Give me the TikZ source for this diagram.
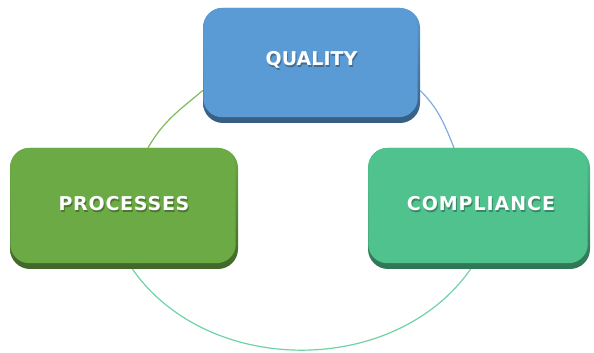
\documentclass[tikz,border=0pt]{standalone}
\usepackage{fontspec}
\setmainfont{DejaVu Sans}
\newfontfamily\cardfontQ[LetterSpace=0]{DejaVu Sans}
\newfontfamily\cardfontP[LetterSpace=4]{DejaVu Sans}
\newfontfamily\cardfontC[LetterSpace=5]{DejaVu Sans}
\definecolor{qblue}{RGB}{91,155,213}
\definecolor{pgreen}{RGB}{108,170,70}
\definecolor{cteal}{RGB}{80,194,142}
\definecolor{arcgreen}{RGB}{125,188,90}
\definecolor{arcblue}{RGB}{125,172,225}
\definecolor{arcteal}{RGB}{110,210,165}
\tikzset{
  cardbase/.style={rounded corners=20pt, inner sep=0pt, draw=none},
  cardlabel/.style={text=white, inner sep=0pt, font=\bfseries\fontsize{19}{23}\selectfont},
  cardshadow/.style={text=black, opacity=.3, inner sep=0pt, font=\bfseries\fontsize{19}{23}\selectfont},
  cyclearc/.style={line width=1.2pt}
}
\begin{document}
\begin{tikzpicture}[x=1pt,y=1pt]
\useasboundingbox (0,0) rectangle (594,353);
% boxes
\node[cardbase, minimum width=217pt, minimum height=115pt, top color=qblue, bottom color=qblue!60!black] (q) at (311.5,287.5) {};
\fill[qblue, rounded corners=19pt] ([shift={(0.5,6)}]q.south west) rectangle ([shift={(-2.5,0)}]q.north east);
\node[cardbase, minimum width=228pt, minimum height=121pt, top color=pgreen, bottom color=pgreen!60!black] (p) at (124,144.5) {};
\fill[pgreen, rounded corners=19pt] ([shift={(0.5,6)}]p.south west) rectangle ([shift={(-2.5,0)}]p.north east);
\node[cardbase, minimum width=222pt, minimum height=121pt, top color=cteal, bottom color=cteal!60!black] (c) at (479,144.5) {};
\fill[cteal, rounded corners=19pt] ([shift={(0.5,6)}]c.south west) rectangle ([shift={(-2.5,0)}]c.north east);
% labels
\node[cardshadow] (qs) at ([shift={(1,4)}]q.center) {\cardfontQ QUALITY};
\node[cardlabel] (qt) at ([yshift=5.5pt]q.center) {\cardfontQ QUALITY};
\node[cardshadow] (ps) at ([shift={(1,3)}]p.center) {\cardfontP PROCESSES};
\node[cardlabel] (pt) at ([yshift=4.5pt]p.center) {\cardfontP PROCESSES};
\node[cardshadow] (cs) at ([shift={(3,3)}]c.center) {\cardfontC COMPLIANCE};
\node[cardlabel] (ct) at ([shift={(2,4.5)}]c.center) {\cardfontC COMPLIANCE};
% arcs
\draw[cyclearc, arcgreen] ([xshift=24pt]p.north) to[out=60,in=220] ([yshift=-25pt]q.west);
\draw[cyclearc, arcblue] ([yshift=-25pt]q.east) to[out=-45,in=112] ([xshift=-25pt]c.north);
\draw[cyclearc, arcteal] ([xshift=8.5pt]p.south) to[out=-55,in=-125] ([xshift=-8.5pt]c.south);
\end{tikzpicture}
\end{document}
